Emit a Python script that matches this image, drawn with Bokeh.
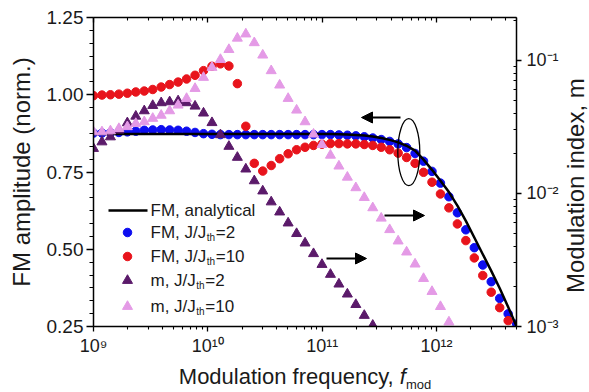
import math
from bokeh.plotting import figure
from bokeh.layouts import column, row
from bokeh.models import (Range1d, LogScale, LogAxis, FixedTicker, CustomJSTickFormatter,
                          NumeralTickFormatter, Label, Arrow, NormalHead, Div)
from bokeh.embed import file_html
from bokeh.resources import INLINE

# ---------------- data ----------------
log_f = [9.000, 9.074, 9.148, 9.222, 9.296, 9.370, 9.444, 9.518, 9.592, 9.666,
         9.740, 9.814, 9.888, 9.962, 10.036, 10.110, 10.184, 10.258, 10.332, 10.406,
         10.480, 10.554, 10.628, 10.702, 10.776, 10.850, 10.924, 10.998, 11.072, 11.146,
         11.220, 11.294, 11.368, 11.442, 11.516, 11.590, 11.664, 11.738, 11.812, 11.886,
         11.960, 12.034, 12.108, 12.182, 12.256, 12.330, 12.404, 12.478, 12.552, 12.626, 12.700]

fm_analytical = [0.873, 0.873, 0.873, 0.873, 0.873, 0.873, 0.873, 0.873, 0.873, 0.873,
                 0.873, 0.873, 0.873, 0.873, 0.873, 0.873, 0.873, 0.873, 0.873, 0.873,
                 0.873, 0.873, 0.873, 0.873, 0.873, 0.873, 0.873, 0.873, 0.873, 0.872,
                 0.871, 0.870, 0.868, 0.865, 0.860, 0.854, 0.846, 0.835, 0.819, 0.790,
                 0.757, 0.722, 0.685, 0.641, 0.592, 0.538, 0.484, 0.430, 0.374, 0.313, 0.250]

fm_j2 = [0.876, 0.876, 0.877, 0.878, 0.880, 0.882, 0.885, 0.886, 0.887, 0.886,
         0.885, 0.882, 0.878, 0.874, 0.872, 0.871, 0.871, 0.871, 0.871, 0.871,
         0.871, 0.871, 0.871, 0.871, 0.871, 0.871, 0.871, 0.871, 0.871, 0.870,
         0.869, 0.867, 0.864, 0.860, 0.855, 0.849, 0.841, 0.829, 0.810, 0.785,
         0.752, 0.714, 0.670, 0.618, 0.563, 0.505, 0.449, 0.395, 0.341, 0.291, 0.258]

fm_j10 = [0.997, 0.999, 1.000, 1.002, 1.005, 1.009, 1.012, 1.017, 1.025, 1.033,
          1.041, 1.051, 1.063, 1.078, 1.092, 1.100, 1.093, 1.036, 0.898, 0.778,
          0.753, 0.771, 0.793, 0.809, 0.822, 0.830, 0.836, 0.840, 0.842, 0.842,
          0.841, 0.841, 0.839, 0.836, 0.830, 0.822, 0.811, 0.797, 0.778, 0.749,
          0.717, 0.679, 0.634, 0.582, 0.528, 0.472, 0.415, 0.361, 0.311, 0.269]

m_j2 = [0.0217, 0.0243, 0.0265, 0.0298, 0.0338, 0.0379, 0.0416, 0.0456, 0.0478, 0.0486,
        0.0494, 0.0478, 0.0451, 0.0400, 0.0339, 0.0275, 0.0225, 0.0186, 0.0152, 0.0124,
        0.0104, 0.00861, 0.00723, 0.00598, 0.00498, 0.00423, 0.00352, 0.00292, 0.00246, 0.00208,
        0.00175, 0.00146, 0.00121, 0.00102]

m_j10 = [0.0289, 0.0289, 0.0294, 0.0306, 0.0316, 0.0334, 0.0344, 0.0365, 0.0385, 0.0416,
         0.0459, 0.0515, 0.0612, 0.0741, 0.0881, 0.101, 0.120, 0.146, 0.157, 0.135,
         0.109, 0.0832, 0.0649, 0.0515, 0.0421, 0.0344, 0.0278, 0.0232, 0.0193, 0.0160,
         0.0132, 0.0110, 0.00929, 0.00778, 0.00650, 0.00533, 0.00438, 0.00362, 0.00294, 0.00229,
         0.00183, 0.00141, 0.00108]

x_ticks = [1e9, 1e10, 1e11, 1e12]
left_ticks = [0.25, 0.50, 0.75, 1.00, 1.25]
right_ticks = [1e-3, 1e-2, 1e-1]

legend_labels = ["FM, analytical", ("FM, J/J", "th", "=2"), ("FM, J/J", "th", "=10"),
                 ("m, J/J", "th", "=2"), ("m, J/J", "th", "=10")]

freq = [10 ** v for v in log_f]

# ---------------- layout ----------------
W_TOTAL, H_TOTAL = 589, 392
W = 562                                # figure width; right-title div beside it
H = 366                                # figure height; x-axis title div below
FL, FR, FT, FB = 93, 516, 17, 326     # frame edges inside the canvas
X0, X1 = 1e9, 5e12
YL0, YL1 = 0.25, 1.25
YR0, YR1 = 1e-3, 0.209

BLUE, RED, PURPLE, PINK = "#0d0df0", "#e8141c", "#5b1a6a", "#e49ae6"
FONT = "Liberation Sans"
TXT = "#1a1a1a"


def dx(px):
    frac = (px - FL) / (FR - FL)
    return 10 ** (math.log10(X0) + frac * (math.log10(X1) - math.log10(X0)))


def dy(py):
    frac = (FB - py) / (FB - FT)
    return YL0 + frac * (YL1 - YL0)


fig = figure(width=W, height=H, x_axis_type="log",
             x_range=Range1d(X0, X1), y_range=Range1d(YL0, YL1),
             output_backend="svg", toolbar_location=None,
             min_border_left=FL, min_border_right=W - FR,
             min_border_top=FT, min_border_bottom=H - FB)
fig.outline_line_color = None
fig.xgrid.visible = False
fig.ygrid.visible = False
fig.background_fill_color = "white"
fig.border_fill_color = "white"

fig.extra_y_ranges = {"m": Range1d(YR0, YR1)}
fig.extra_y_scales = {"m": LogScale()}

sup_code = """
const sup = {"-":"\\u207B","0":"\\u2070","1":"\\u00B9","2":"\\u00B2","3":"\\u00B3",
             "4":"\\u2074","5":"\\u2075","6":"\\u2076","7":"\\u2077","8":"\\u2078","9":"\\u2079"};
const e = Math.round(Math.log10(tick));
return "10" + String(e).split("").map(c => sup[c]).join("");
"""

x_minor = [m * 10 ** e for e in range(9, 13) for m in range(2, 10)]
r_minor = [m * 10 ** e for e in range(-3, 0) for m in range(2, 10)]
l_minor = [0.25 + i * 0.25 / 6 for i in range(25)]


def style_axis(ax):
    ax.axis_line_width = 1.5
    ax.axis_line_color = "black"
    ax.major_tick_line_color = "black"
    ax.minor_tick_line_color = "black"
    ax.major_tick_line_width = 1.3
    ax.minor_tick_line_width = 1.1
    ax.major_label_text_font = FONT
    ax.major_label_text_font_size = "18px"
    ax.major_label_text_color = TXT
    ax.major_label_standoff = 4
    ax.axis_label_text_font = FONT
    ax.axis_label_text_font_style = "normal"
    ax.axis_label_text_color = TXT


xa = fig.xaxis[0]
xa.ticker = FixedTicker(ticks=x_ticks, minor_ticks=x_minor)
xa.formatter = CustomJSTickFormatter(code=sup_code)
style_axis(xa)
xa.major_tick_out, xa.major_tick_in = 5, 0
xa.minor_tick_out, xa.minor_tick_in = 3, 0

top = LogAxis(ticker=FixedTicker(ticks=x_ticks, minor_ticks=x_minor),
              formatter=CustomJSTickFormatter(code='return "";'))
style_axis(top)
top.major_label_text_font_size = "2px"
top.major_label_standoff = 0
top.major_tick_out, top.major_tick_in = 0, 5
top.minor_tick_out, top.minor_tick_in = 0, 3
fig.add_layout(top, "above")

ya = fig.yaxis[0]
ya.ticker = FixedTicker(ticks=left_ticks, minor_ticks=l_minor)
ya.formatter = NumeralTickFormatter(format="0.00")
style_axis(ya)
ya.major_label_text_font_size = "19px"
ya.major_label_standoff = 3
ya.major_tick_out, ya.major_tick_in = 7, 0
ya.minor_tick_out, ya.minor_tick_in = 4, 0
ya.axis_label = "FM amplitude (norm.)"
ya.axis_label_text_font_size = "24px"
ya.axis_label_standoff = 9

ra = LogAxis(y_range_name="m", ticker=FixedTicker(ticks=right_ticks, minor_ticks=r_minor),
             formatter=CustomJSTickFormatter(code=sup_code))
style_axis(ra)
ra.major_tick_out, ra.major_tick_in = 5, 0
ra.minor_tick_out, ra.minor_tick_in = 0, 3
ra.major_label_standoff = 5
fig.add_layout(ra, "right")

# ---------------- data glyphs ----------------
fig.scatter(freq[:len(fm_j2)], fm_j2, marker="circle", size=8.5, color=BLUE)
fig.scatter(freq[:len(fm_j10)], fm_j10, marker="circle", size=8.5, color=RED)
fig.line(freq, fm_analytical, line_color="black", line_width=2.5)
fig.scatter(freq[:len(m_j2)], m_j2, marker="triangle", size=10, color=PURPLE, y_range_name="m")
fig.scatter(freq[:len(m_j10)], m_j10, marker="triangle", size=10, color=PINK, y_range_name="m")

# ---------------- annotations: arrows + ellipse ----------------
for (xs, xe, yy) in [(400, 361, 117), (326, 366, 258), (384, 424, 215)]:
    fig.add_layout(Arrow(end=NormalHead(size=11, fill_color="black", line_color="black"),
                         x_start=dx(xs), y_start=dy(yy), x_end=dx(xe), y_end=dy(yy),
                         line_width=2, line_color="black"))

fig.ellipse(x=[dx(408.3)], y=[dy(151.7)], width=22, height=67,
            width_units="screen", height_units="screen",
            fill_alpha=0, line_color="black", line_width=1.3)

# ---------------- manual legend ----------------
rows_y = [210, 232, 256, 280, 306]
fig.line([dx(108), dx(147)], [dy(rows_y[0])] * 2, line_color="black", line_width=2.5)
for yy, col, mk, sz in [(rows_y[1], BLUE, "circle", 8.5), (rows_y[2], RED, "circle", 8.5),
                        (rows_y[3], PURPLE, "triangle", 10), (rows_y[4], PINK, "triangle", 10)]:
    fig.scatter([dx(127)], [dy(yy)], marker=mk, size=sz, color=col)

LFS = 17
fig.add_layout(Label(x=dx(150), y=dy(rows_y[0]), text=legend_labels[0], text_font=FONT,
                     text_font_size=f"{LFS}px", text_baseline="middle", text_color=TXT))
for yy, (a, b, c) in zip(rows_y[1:], legend_labels[1:]):
    wa = (3.278 if a.startswith("FM") else 2.667) * LFS
    fig.add_layout(Label(x=dx(150), y=dy(yy), text=a, text_font=FONT, text_font_size=f"{LFS}px",
                         text_baseline="middle", text_color=TXT))
    fig.add_layout(Label(x=dx(150 + wa + 0.5), y=dy(yy + 5), text=b, text_font=FONT,
                         text_font_size="10px", text_baseline="middle", text_color=TXT))
    fig.add_layout(Label(x=dx(150 + wa + 9.5), y=dy(yy), text=c, text_font=FONT,
                         text_font_size=f"{LFS}px", text_baseline="middle", text_color=TXT))

# ---------------- axis titles in HTML (italic f, subscript, bottom-to-top text) ----------------
pad_left = int(2 * 305 - W)
xtitle = Div(
    text=(f'<div style="box-sizing:border-box;width:{W}px;padding-left:{pad_left}px;text-align:center;'
          f'font-family:\'{FONT}\';font-size:22px;line-height:22px;color:{TXT};white-space:nowrap;">'
          'Modulation frequency, <i>f</i><span style="font-size:13px;position:relative;top:5px;">mod</span></div>'),
    width=W, height=H_TOTAL - H, margin=(0, 0, 0, 0))

RW = W_TOTAL - W
rtitle = Div(
    text=(f'<div style="height:{2 * 186}px;width:{RW}px;writing-mode:vertical-rl;'
          'transform:rotate(180deg);text-align:center;'
          f'font-family:\'{FONT}\';font-size:24px;line-height:{RW}px;color:{TXT};white-space:nowrap;">'
          'Modulation index, m</div>'),
    width=RW, height=H_TOTAL, margin=(0, 0, 0, 0))

p = row(column(fig, xtitle, spacing=0, margin=(0, 0, 0, 0)), rtitle, spacing=0, margin=(0, 0, 0, 0))

open("out.html", "w").write(file_html(p, INLINE))
